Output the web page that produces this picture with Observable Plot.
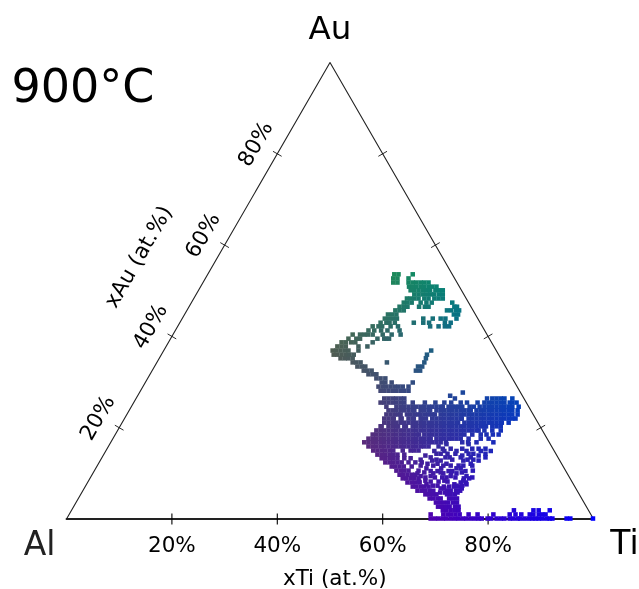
<!DOCTYPE html>
<html><head><meta charset="utf-8">
<script src="https://cdn.jsdelivr.net/npm/d3@7"></script>
<script src="https://cdn.jsdelivr.net/npm/@observablehq/plot@0.6"></script>
<style>html,body{margin:0;padding:0;background:#fff}svg{display:block;filter:blur(0.45px)}</style>
</head><body><script>
// Each entry of xAuRows is an Au content (at.%); the entry of alongBaseRows at the same index
// lists where samples of that Au content fall along the Al-Ti base (xTi + xAu/2, in %).
const xAuRows = [0.1,1.0,1.9,2.7,3.6,4.5,5.4,6.2,7.1,8.0,8.9,9.7,10.6,11.5,12.4,13.3,14.1,15.0,15.9,16.8,17.6,18.5,19.4,20.3,21.1,22.0,22.9,23.8,24.6,25.5,26.4,27.0,27.7,28.1,29.0,29.9,30.8,31.7,32.5,33.4,34.3,35.2,36.0,36.9,37.8,38.7,39.5,40.4,41.3,42.2,43.0,43.9,44.8,45.7,46.5,47.4,48.3,49.2,50.1,50.9,51.8,52.7,53.6,
  15.4,14.3,13.5,12.8,11.7,10.5,10.0,9.1,8.2,7.6,6.7,
  16.4,14.9,13.9,13.0,12.1,11.1,10.2,9.4,8.4,7.3,5.8];
const alongBaseRows = [
[69.1,69.9,70.6,71.4,72.1,72.9,73.7,74.4,75.2,75.9,76.7,77.5,78.2,78.8,79.9,80.6,81.6,82.4,83.1,84.1,84.8,85.6,86.1,86.9,87.7,88.4,89,89.6,90.3,91.1,91.7,92.2,94.9,95.6,99.9],
[69.1,71.5,72.3,73,73.8,74.6,76.3,78,81,84.1,85.2,86.3,87.9,88.6,89.6,90.3,90.9],
[71.4,72.1,72.9,73.7,74.4,84.9,88.6,89.6,91.7],
[70.5,71.2,72,72.7,73.7,74.4],
[70.1,70.9,71.6,72.4,73.3,74.1],
[68.9,69.6,70.4,71,72.6,73.3,74.1],
[68.1,68.8,69.5,70.2,72.2,72.9,73.7],
[66.6,67.4,68.1,68.9,69.6,72.2,72.9,73.9,74.7],
[65.7,66.4,67.2,67.9,68.7,71.6,72.6,73.5,74.3],
[64.7,65.5,66.2,67,74.8,75.8],
[63.8,64.5,65.3,66,66.8,75.4,76.4],
[63.2,63.9,64.7,65.5,66.2],
[62.6,63.4,64.1,64.9,66.8,77.1],
[61.7,62.4,63.2,64,65.5],
[60.5,61.3,62,62.8,63.6,64.9,66.2,67.4],
[59.8,60.5,61.3,62,62.8,64.1,65.3],
[59,59.8,60.5,61.3,62,62.8,64.1],
[58.2,59,59.8,60.5,61.3,62,63.8,65.3,66,66.8],
[57.3,58.1,58.8,59.6,60.3,61.1,61.9,62.6,63.4,64.1,64.9,65.7,66.4,67.2,67.9,68.7,70.6],
[56.5,57.3,58.1,58.8,59.6,60.3,61.1,61.9,62.6,63.4,64.1,64.9,65.7,66.4,67.2,67.9,68.7,69.4,70.2,71,72,75.1,76.2,77.8,81],
[57.3,58.1,58.8,59.6,60.3,61.1,61.9,62.6,63.4,64.1,64.9,65.7,66.4,67.2,67.9,68.7,69.1,70.2,71,71.7,72.5,73.2,74,74.8,76.3,78.6,80.1],
[58.1,58.8,59.6,60.3,61.1,61.9,62.6,63.4,64.1,64.9,65.7,66.4,66.9,67.9,68.7,69.4,70.2,71,71.7,72.5,73.2,74,74.8,75.5,77,78.6,79.7,80.9,82],
[58.8,59.6,60.3,61.1,61.9,62.6,63.4,64.1,64.9,65.7,66.4,67.2,67.9,68.7,69.4,70.2,71,71.7,72.5,73.2,74,74.8,75.5,76.3,77,77.8,78.2,79.3,80.8,82.4],
[59.6,59.8,61.1,61.9,62.6,62.9,64.1,64.4,65.7,66.4,67.2,67.9,68.7,69.4,70.2,71,71.7,72.5,73.2,74,74.8,75.5,76.3,77,77.8,78.6,79.3,79.6,80.8,81.6,82.4],
[60.3,61.1,61.9,62.6,63.4,64.1,64.9,65.7,66.4,67.2,67.9,68.7,69.4,70.2,71,71.7,72.5,73.2,74,74.3,75.5,76.3,77,77.8,78.6,79.3,80.1,80.8,81.6,82.4,82.6,83.9],
[60.3,61.1,61.9,62.1,63.4,63.6,64.9,65.7,65.9,67.2,67.5,68.2,69.4,70.2,71,71.7,72.5,73.2,74,74.8,75,76.3,77,77.8,78.6,79.3,80.1,80.8,81.6,82.4,83.1,83.9,84.6,85.2],
[60.7,61.5,62.3,63,63.4,64.6,65.3,66.1,66.8,67.2,68,68.7,69.4,69.9,71,71.7,72.5,73.2,74,74.8,75.5,76.3,77,77.8,78.6,79.3,80.1,80.8,81.6,82.4,83.1,83.9,84.6,85.6],
[61.1,61.9,62.6,63.4,64.1,64.9,65.7,66,67.2,67.9,68.7,69,70.2,71,71.7,72.5,73.2,74,74.8,75.5,76.3,76.7,77.8,78.6,79.3,80.1,80.8,81.6,82.4,83.1,83.9,84.6,85.6],
[60.7,62.6,63.4,64.1,64.9,65.7,66.4,67.2,67.9,68.7,69.4,70.2,71,71.4,72.5,73.2,73.8,74.4,75.1,76.5,77.3,78.4,79.3,80.1,80.8,81.6,82.4,83.1,83.9,84.6,85.8],
[59.6,60.3,61.1,61.9,62.6,63.4,64.1,65.7,68,70,71.7,73,74.8,76,78,79.3,80.1,80.8,81.6,82.4,83.1,84.1,84.6,85.4],
[60.3,61.1,61.9,62.6,63.4,64.1,73.7,79.8,80.8,81.6,82.4,83.1,84.6],
[72.8],
[75.2],
[59.6,60.3,61.1,61.9,62.6,63.4,64.1,64.9],
[59.2,60,60.7,61.5,62.3,63,63.8,64.9],
[59.8,60.5,61.7,65.7],
[58.8,59.6,60.5],
[57.3,58.1,58.8],
[56.4,57.1,57.9,66.3,67.1],
[55.2,56,56.7,66.7,67.5],
[54.3,55,55.8,60.8,67.9],
[52,52.8,53.5,54.3,68.2],
[50.7,51.4,52.2,53,53.7,54.5,68.4],
[50.5,51.2,52,52.8,53.5,55.4,69.2],
[51.4,52.2,53,55.4,57.1],
[52.2,53,54,54.8,58.1],
[53.5,55,55.7,59,60.3,60.7,61.2],
[54.3,55.7,56.5,57.2,58.1,60,61.7,63.4],
[57.3,58.4,59.7,60.9,63.2],
[58.1,59.2,59.9,61.5,62.9,69,70.6,71.8,72.6],
[59.6,60.7,61.3,62.3,65.9,67.7,68.8,71.8,72.9],
[60.4,61.2,62,62.7,67.7,69.5,71,71.9,74],
[61,61.8,62.6,73.5,74.3],
[62.4,63.2,64,72.2,73,73.9,74.5],
[63.2,64,64.7,66.9,68,68.7,73.6,74.1],
[64,64.7,65.5,67.2,68.3,69.3,73.2],
[64.6,65.3,66,66.8,67.9,68.7,69.8,70.6,71.4],
[66,66.8,67.6,68.4,69.1,69.8,70.7,71.4],
[65.3,66,66.8,67.6,68.4,69,70,70.7,71.4],
[65,65.7,66.4,67.2,67.9,68.7,69.4,70.2],
[62,62.8,64.9,65.7,66.4,67.2,67.9,68.7],
[62,62.8,64.9],
[62.2,63,65.7],
[71.4,72.9,75.1,77,78.2,79.5],
[70.2,71,72.3,73.8,76.3,77.2,79.5],
[69.1,71.9,72.7,74.8,76.7,79.5],
[69.4,71,75.3,78.2],
[67.2,69.6,71.5,72.9,74.4,75.3,77],
[69.1,70.4,72.5,73.2,75.7],
[66.6,69.6,71.5,74],
[68.1,69.9,71.3,72.1,73.8,77],
[66.9,69.1,70.6,72.3],
[68.3,73.6,75.9],
[71,71.7,75],
[72.1,76.3],
[69.8,71.7,74,75.9,78.6,80.5],
[68.1,75.1,78.2],
[67.2,70.2,73.2,76.1,77.2],
[68.5,70.4,72.1,76.7],
[68.3,71.1,74,74.8],
[67.9,71,73,75],
[67.2,69.1,72.9,75.9],
[68.1,71.7,75.3],
[69.5,70.4,74,75.1],
[70.9,71.8,74.2]
];
const corners = ["Al","Ti","Au"];
const tickPercents = [20,40,60,80];

const samples = xAuRows.flatMap((xAu,i) => alongBaseRows[i].map(base => ({xAu, base, xTi: base - xAu/2, xAl: 100 - base - xAu/2})));
const pct = v => Math.max(0,Math.min(255,Math.round(v*2.55)));
const mix = d => `rgb(${pct(d.xAl)},${pct(d.xAu)},${pct(d.xTi)})`;

const outline = [{b:0,a:0},{b:50,a:100},{b:100,a:0},{b:0,a:0}];
const spike = {draw(ctx,l){ctx.moveTo(0,0);ctx.lineTo(0,-l);}};
const font = "DejaVu Sans";

const chart = Plot.plot({
  width:639,height:589,margin:0,
  style:{background:"#fff",fontFamily:font,color:"#000"},
  x:{domain:[0,100],range:[66,593],axis:null},
  y:{domain:[0,100],range:[518.5,62],axis:null},
  color:{type:"identity"},
  marks:[
    Plot.line(outline.slice(0,3),{x:"b",y:"a",stroke:"#222",strokeWidth:1.1}),
    Plot.line(outline.slice(2),{x:"b",y:"a",stroke:"#222",strokeWidth:1.9}),
    Plot.vector(tickPercents,{x:d=>d,y:0,length:11,rotate:0,anchor:"middle",shape:spike,stroke:"#000",strokeWidth:1.1,strokeLinecap:"butt"}),
    Plot.vector(tickPercents,{x:d=>d/2,y:d=>d,length:10,rotate:120,anchor:"middle",shape:spike,stroke:"#111",strokeWidth:.8,strokeLinecap:"butt"}),
    Plot.vector(tickPercents,{x:d=>100-d/2,y:d=>d,length:10,rotate:60,anchor:"middle",shape:spike,stroke:"#111",strokeWidth:.8,strokeLinecap:"butt"}),
    Plot.dot(samples,{x:"base",y:"xAu",symbol:"square",r:2.55,fill:mix}),
    Plot.text(tickPercents,{x:d=>d,y:0,text:d=>d+"%",dy:26,fontSize:21.5,fill:"#000"}),
    Plot.text(tickPercents,{x:d=>d/2,y:d=>d,text:d=>d+"%",rotate:-60,dx:-22,dy:-10,fontSize:21.5,fill:"#000"}),
    Plot.text(["xTi (at.%)"],{x:50.9,y:0,text:d=>d,dy:59,fontSize:21.5,fill:"#000"}),
    Plot.text(["xAu (at.%)"],{x:25,y:50,text:d=>d,rotate:-60,dx:-60,dy:-34,fontSize:21.5,fill:"#000"}),
    Plot.text(corners.slice(2),{x:50,y:100,text:d=>d,dy:-34,fontSize:32.5,fill:"#000"}),
    Plot.text(corners.slice(0,1),{x:0,y:0,text:d=>d,dx:-27,dy:25,fontSize:33,fill:"#222"}),
    Plot.text(corners.slice(1,2),{x:100,y:0,text:d=>d,dx:31,dy:24,fontSize:33,fill:"#000"}),
    Plot.text(["900°C"],{frameAnchor:"top-left",text:d=>d,dx:11,dy:69,fontSize:46,lineAnchor:"top",textAnchor:"start",fill:"#000"})
  ]
});
document.body.appendChild(chart);
</script></body></html>
